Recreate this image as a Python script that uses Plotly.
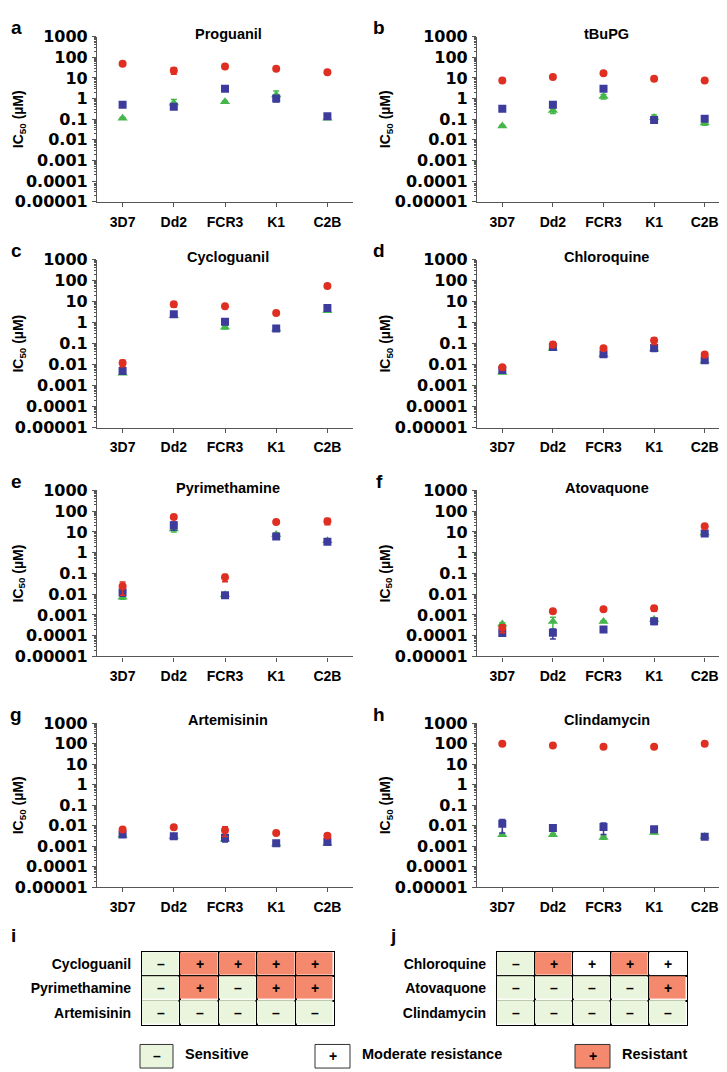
import plotly.graph_objects as go

# ---------------- data ----------------
strains = ["3D7", "Dd2", "FCR3", "K1", "C2B"]
ytick_vals = [1e3, 1e2, 1e1, 1, 0.1, 0.01, 0.001, 0.0001, 0.00001]
ytick_text = ["1000", "100", "10", "1", "0.1", "0.01", "0.001", "0.0001", "0.00001"]

proguanil_green = [0.11, 0.6, 0.7, 1.5, 0.11]
proguanil_green_err = [0.01, 0.3, 0.05, 0.8, 0.01]
proguanil_blue = [0.5, 0.4, 3.0, 1.0, 0.14]
proguanil_blue_err = [0.12, 0.08, 0.5, 0.3, 0.02]
proguanil_red = [48, 23, 36, 28, 19]
proguanil_red_err = [3, 8, 3, 3, 2]

tbupg_green = [0.046, 0.26, 1.25, 0.12, 0.065]
tbupg_green_err = [0.005, 0.07, 0.3, 0.04, 0.015]
tbupg_blue = [0.32, 0.5, 3.0, 0.09, 0.105]
tbupg_blue_err = [0.08, 0.05, 0.4, 0.01, 0.015]
tbupg_red = [7.5, 11, 17, 9, 7.5]
tbupg_red_err = [0.5, 0.8, 1.5, 0.7, 0.5]

cycloguanil_green = [0.0039, 2.1, 0.6, 0.5, 3.7]
cycloguanil_green_err = [0.0004, 0.2, 0.1, 0.05, 0.4]
cycloguanil_blue = [0.005, 2.5, 1.1, 0.53, 5.0]
cycloguanil_blue_err = [0.001, 0.3, 0.15, 0.05, 0.8]
cycloguanil_red = [0.012, 7.5, 6.0, 2.9, 55]
cycloguanil_red_err = [0.004, 2.0, 0.5, 0.3, 5]

chloroquine_green = [0.0042, 0.06, 0.03, 0.055, 0.015]
chloroquine_green_err = [0.0004, 0.005, 0.003, 0.005, 0.002]
chloroquine_blue = [0.0055, 0.068, 0.031, 0.062, 0.016]
chloroquine_blue_err = [0.0006, 0.008, 0.004, 0.02, 0.002]
chloroquine_red = [0.0075, 0.09, 0.06, 0.14, 0.03]
chloroquine_red_err = [0.0008, 0.025, 0.005, 0.05, 0.008]

pyrimethamine_green = [0.0072, 14, 0.0095, 7.5, 3.8]
pyrimethamine_green_err = [0.0015, 4, 0.001, 1.5, 0.5]
pyrimethamine_blue = [0.012, 21, 0.0088, 6.0, 3.4]
pyrimethamine_blue_err = [0.004, 9, 0.001, 0.8, 0.5]
pyrimethamine_red = [0.024, 52, 0.065, 30, 33]
pyrimethamine_red_err = [0.015, 6, 0.025, 3, 11]

atovaquone_green = [0.00037, 0.00048, 0.00048, 0.0006, 9.0]
atovaquone_green_err = [0.00005, 0.0003, 0.00005, 0.0001, 1]
atovaquone_blue = [0.000135, 0.00014, 0.0002, 0.0005, 8.5]
atovaquone_blue_err = [0.00002, 0.00007, 0.00002, 0.00015, 1]
atovaquone_red = [0.00024, 0.0015, 0.0019, 0.0021, 19]
atovaquone_red_err = [0.0001, 0.0001, 0.0001, 0.0006, 1.5]

artemisinin_green = [0.0035, 0.003, 0.0022, 0.0013, 0.0014]
artemisinin_green_err = [0.0003, 0.0003, 0.0005, 0.0001, 0.0001]
artemisinin_blue = [0.0038, 0.0031, 0.0026, 0.0014, 0.0016]
artemisinin_blue_err = [0.0004, 0.0004, 0.001, 0.0002, 0.0002]
artemisinin_red = [0.0065, 0.0085, 0.006, 0.0045, 0.0033]
artemisinin_red_err = [0.0005, 0.0005, 0.003, 0.0003, 0.0003]

clindamycin_green = [0.0037, 0.0037, 0.0027, 0.0047, 0.003]
clindamycin_green_err = [0.0005, 0.0005, 0.0005, 0.0006, 0.0003]
clindamycin_blue = [0.0125, 0.0078, 0.0088, 0.0067, 0.0029]
clindamycin_blue_err = [0.008, 0.001, 0.005, 0.001, 0.0003]
clindamycin_red = [100, 82, 72, 72, 100]
clindamycin_red_err = [5, 4, 4, 4, 5]

table_i_drugs = ["Cycloguanil", "Pyrimethamine", "Artemisinin"]
table_i_status = [[0, 2, 2, 2, 2], [0, 2, 0, 2, 2], [0, 0, 0, 0, 0]]
table_j_drugs = ["Chloroquine", "Atovaquone", "Clindamycin"]
table_j_status = [[0, 2, 1, 2, 1], [0, 0, 0, 0, 2], [0, 0, 0, 0, 0]]
status_symbols = ["\u2013", "+", "+"]
legend_labels = ["Sensitive", "Moderate resistance", "Resistant"]

# ---------------- styles ----------------
W, H = 727, 1072
GREEN, BLUE, RED = "#45b649", "#3d3c9c", "#de2f22"
C_SENS, C_MOD, C_RES = "#eaf5de", "#ffffff", "#f4896d"
AXIS_COLOR = "#555555"
SANS = "Liberation Sans"


def X(px):
    return px / W


def Y(py):
    return 1 - py / H


panels = [
    ("a", "Proguanil", proguanil_green, proguanil_green_err, proguanil_blue, proguanil_blue_err, proguanil_red, proguanil_red_err),
    ("b", "tBuPG", tbupg_green, tbupg_green_err, tbupg_blue, tbupg_blue_err, tbupg_red, tbupg_red_err),
    ("c", "Cycloguanil", cycloguanil_green, cycloguanil_green_err, cycloguanil_blue, cycloguanil_blue_err, cycloguanil_red, cycloguanil_red_err),
    ("d", "Chloroquine", chloroquine_green, chloroquine_green_err, chloroquine_blue, chloroquine_blue_err, chloroquine_red, chloroquine_red_err),
    ("e", "Pyrimethamine", pyrimethamine_green, pyrimethamine_green_err, pyrimethamine_blue, pyrimethamine_blue_err, pyrimethamine_red, pyrimethamine_red_err),
    ("f", "Atovaquone", atovaquone_green, atovaquone_green_err, atovaquone_blue, atovaquone_blue_err, atovaquone_red, atovaquone_red_err),
    ("g", "Artemisinin", artemisinin_green, artemisinin_green_err, artemisinin_blue, artemisinin_blue_err, artemisinin_red, artemisinin_red_err),
    ("h", "Clindamycin", clindamycin_green, clindamycin_green_err, clindamycin_blue, clindamycin_blue_err, clindamycin_red, clindamycin_red_err),
]

col_x = [(89, 345), (469, 722)]
row_y = [(20, 188), (247, 418), (482, 651), (719, 886)]
letter_x = [8, 371]
ytitle_x = [11, 378]

fig = go.Figure()
layout = dict(
    width=W, height=H, margin=dict(l=0, r=0, t=0, b=0),
    paper_bgcolor="white", plot_bgcolor="white", showlegend=False,
)
annotations = []
shapes = []

for i, (letter, title, g, ge, b, be, r, re_) in enumerate(panels):
    col, row = i % 2, i // 2
    n = i + 1
    xa = "x" if n == 1 else f"x{n}"
    ya = "y" if n == 1 else f"y{n}"
    x0, x1 = col_x[col]
    ytop, ybot = row_y[row]
    for vals, errs, color, sym, size in [
        (g, ge, GREEN, "triangle-up", 9),
        (b, be, BLUE, "square", 8),
        (r, re_, RED, "circle", 8),
    ]:
        fig.add_trace(go.Scatter(
            x=strains, y=vals, mode="markers", xaxis=xa, yaxis=ya,
            marker=dict(symbol=sym, size=size, color=color, line=dict(width=0)),
            error_y=dict(type="data", array=errs, symmetric=True, color=color, thickness=1.5, width=3),
            hoverinfo="skip",
        ))
    layout["xaxis" if n == 1 else f"xaxis{n}"] = dict(
        domain=[X(x0), X(x1)], anchor=ya, type="category",
        categoryorder="array", categoryarray=strains, range=[-0.5, 4.5],
        showline=True, linecolor=AXIS_COLOR, linewidth=1.2, showgrid=False, zeroline=False,
        ticks="outside", ticklen=4, tickwidth=1, tickcolor=AXIS_COLOR,
        tickfont=dict(family=SANS, size=14, color="black", weight="bold"),
        ticklabelstandoff=3,
    )
    layout["yaxis" if n == 1 else f"yaxis{n}"] = dict(
        domain=[Y(ybot), Y(ytop)], anchor=xa, type="log", range=[-5, 3],
        tickmode="array", tickvals=ytick_vals, ticktext=ytick_text,
        showline=True, linecolor=AXIS_COLOR, linewidth=1.2, showgrid=False, zeroline=False,
        ticks="outside", ticklen=4, tickwidth=1.2, tickcolor=AXIS_COLOR,
        minor=dict(ticks="outside", ticklen=2, tickwidth=0.8, tickcolor=AXIS_COLOR, dtick="D1", showgrid=False),
        tickfont=dict(family="DejaVu Sans", size=16, color="black", weight="bold"),
        ticklabelstandoff=1,
    )
    annotations.append(dict(
        x=X((x0 + x1) / 2 + 3), y=Y(ytop - 3), xref="paper", yref="paper",
        text=title, showarrow=False, xanchor="center", yanchor="middle",
        font=dict(family=SANS, size=14.5, color="black", weight="bold"),
    ))
    annotations.append(dict(
        x=X(letter_x[col]), y=Y(ytop - 9), xref="paper", yref="paper",
        text=letter, showarrow=False, xanchor="center", yanchor="middle",
        font=dict(family=SANS, size=19, color="black", weight="bold"),
    ))
    annotations.append(dict(
        x=X(ytitle_x[col]), y=Y((ytop + ybot) / 2), xref="paper", yref="paper",
        text="IC<sub>50</sub> (\u00b5M)", showarrow=False, textangle=-90,
        xanchor="center", yanchor="middle",
        font=dict(family=SANS, size=14, color="black", weight="bold"),
    ))

# ---------------- tables ----------------
tables = [
    ("i", table_i_drugs, table_i_status, (134, 326), 9, 5),
    ("j", table_j_drugs, table_j_status, (489, 679), 10, 385),
]
t_top, t_bot = 952, 1026
for letter, drugs, status, (tx0, tx1), n, lx in tables:
    xa, ya = f"x{n}", f"y{n}"
    fig.add_trace(go.Heatmap(
        z=status, x=list(range(len(strains))), y=list(range(len(drugs))),
        text=[[status_symbols[v] for v in rowv] for rowv in status],
        texttemplate="%{text}",
        textfont=dict(family=SANS, size=14, color="black", weight="bold"),
        colorscale=[[0, C_SENS], [0.5, C_MOD], [1, C_RES]], zmin=0, zmax=2,
        showscale=False, xgap=1.5, ygap=1.5, xaxis=xa, yaxis=ya, hoverinfo="skip",
    ))
    layout[f"xaxis{n}"] = dict(
        domain=[X(tx0), X(tx1)], anchor=ya, range=[-0.5, 4.5],
        showticklabels=False, ticks="", showgrid=False, zeroline=False,
        showline=True, mirror=True, linecolor="black", linewidth=1.2,
        minor=dict(tickvals=[k - 0.5 for k in range(len(strains) + 1)], showgrid=True,
                   gridcolor="black", gridwidth=1.5, ticks=""),
    )
    layout[f"yaxis{n}"] = dict(
        domain=[Y(t_bot), Y(t_top)], anchor=xa, range=[len(drugs) - 0.5, -0.5],
        tickmode="array", tickvals=list(range(len(drugs))), ticktext=drugs,
        ticks="", showgrid=False, zeroline=False,
        showline=True, mirror=True, linecolor="black", linewidth=1.2,
        minor=dict(tickvals=[k - 0.5 for k in range(len(drugs) + 1)], showgrid=True,
                   gridcolor="black", gridwidth=1.5, ticks=""),
        tickfont=dict(family=SANS, size=14, color="black", weight="bold"),
        ticklabelstandoff=7,
    )
    annotations.append(dict(
        x=X(lx), y=Y(935), xref="paper", yref="paper", text=letter, showarrow=False,
        xanchor="center", yanchor="middle",
        font=dict(family=SANS, size=19, color="black", weight="bold"),
    ))

# ---------------- legend ----------------
leg_boxes = [(132, 165), (307, 342), (567, 602)]
leg_fill = [C_SENS, C_MOD, C_RES]
leg_sym = [status_symbols[0], status_symbols[1], status_symbols[2]]
leg_top, leg_bot = 1046, 1070
for (bx0, bx1), fill, sym, lab in zip(leg_boxes, leg_fill, leg_sym, legend_labels):
    shapes.append(dict(type="rect", xref="paper", yref="paper",
                       x0=X(bx0), x1=X(bx1), y0=Y(leg_bot), y1=Y(leg_top),
                       fillcolor=fill, line=dict(color="#333333", width=1)))
    annotations.append(dict(
        x=X((bx0 + bx1) / 2), y=Y((leg_top + leg_bot) / 2), xref="paper", yref="paper",
        text=sym, showarrow=False, xanchor="center", yanchor="middle",
        font=dict(family=SANS, size=14, color="black", weight="bold"),
    ))
    annotations.append(dict(
        x=X(bx1 + 10), y=Y((leg_top + leg_bot) / 2 - 2), xref="paper", yref="paper",
        text=lab, showarrow=False, xanchor="left", yanchor="middle",
        font=dict(family=SANS, size=14.5, color="black", weight="bold"),
    ))

layout["annotations"] = annotations
layout["shapes"] = shapes
fig.update_layout(**layout)
fig.write_html("out.html")
